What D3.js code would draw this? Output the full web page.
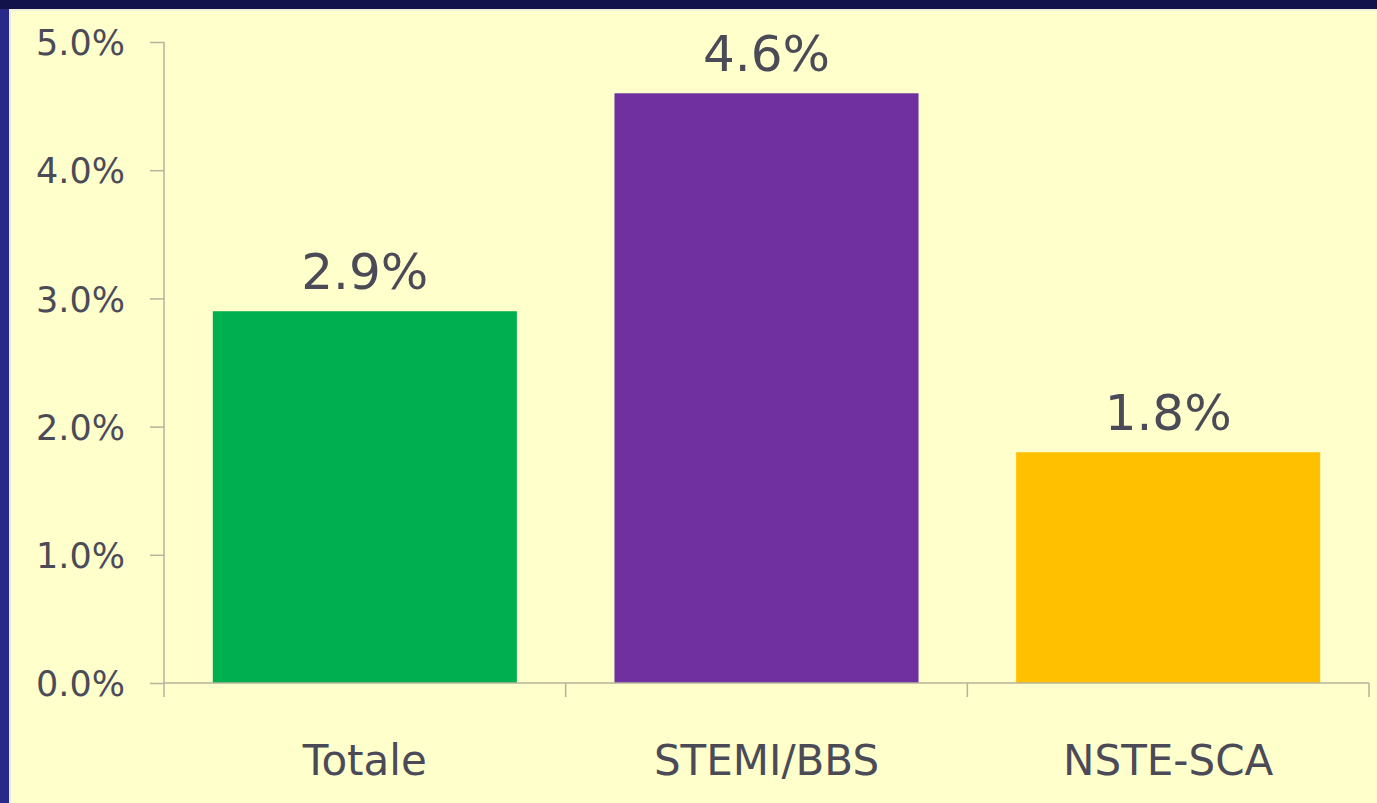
<!DOCTYPE html>
<html>
<head>
<meta charset="utf-8">
<script src="https://cdn.jsdelivr.net/npm/d3@7"></script>
<style>
  html, body { margin: 0; padding: 0; background: #ffffcc; overflow: hidden; }
  svg { display: block; }
</style>
</head>
<body>
<svg id="chart" width="1377" height="803"></svg>
<script>
const categories = ["Totale", "STEMI/BBS", "NSTE-SCA"];
const values = [2.9, 4.6, 1.8];
const barColors = ["#00b050", "#7030a0", "#ffc000"];
const yTicks = [0, 1, 2, 3, 4, 5];
const yMax = 5;

(function () {
const W = 1377, H = 803;
const svg = d3.select("#chart");
const font = "'DejaVu Sans', Verdana, sans-serif";
const textColor = "#4b4b58";
const axisColor = "#b4b49c";

// frame
svg.append("rect").attr("x", 0).attr("y", 0).attr("width", W).attr("height", H).attr("fill", "#ffffcc");
svg.append("rect").attr("x", 0).attr("y", 0).attr("width", 9).attr("height", H).attr("fill", "#29298a");
svg.append("rect").attr("x", 9).attr("y", 0).attr("width", 2).attr("height", H).attr("fill", "#e8e8f4");
svg.append("rect").attr("x", 0).attr("y", 0).attr("width", W).attr("height", 9).attr("fill", "#13134b");
svg.append("rect").attr("x", 9).attr("y", 9).attr("width", W - 9).attr("height", 2).attr("fill", "#f0f0dc");

const mLeft = 164, mRight = 1369, mTop = 42, mBottom = 683;

const x = d3.scaleBand().domain(categories).range([mLeft, mRight]).paddingInner(0.243).paddingOuter(0.1215);
const y = d3.scaleLinear().domain([0, yMax]).range([mBottom, mTop]);

// bars
svg.append("g").selectAll("rect").data(values).join("rect")
  .attr("x", (d, i) => x(categories[i]))
  .attr("y", d => y(d))
  .attr("width", x.bandwidth())
  .attr("height", d => y(0) - y(d))
  .attr("fill", (d, i) => barColors[i]);

// y axis
const yAxis = svg.append("g").attr("transform", `translate(${mLeft},0)`)
  .call(d3.axisLeft(y).tickValues(yTicks).tickSize(14).tickPadding(25)
    .tickFormat(d => d3.format(".1f")(d) + "%"));
yAxis.select(".domain").attr("stroke", axisColor).attr("stroke-width", 1.5).attr("d", `M0,${mTop}V${mBottom}`);
yAxis.selectAll(".tick line").attr("stroke", axisColor).attr("stroke-width", 1.5);
yAxis.selectAll(".tick text").attr("fill", textColor).attr("font-family", font).attr("font-size", 35).attr("dy", "0.36em");

// x axis line and boundary ticks
const xg = svg.append("g");
xg.append("line").attr("x1", mLeft).attr("x2", mRight).attr("y1", mBottom).attr("y2", mBottom)
  .attr("stroke", axisColor).attr("stroke-width", 1.5);
const boundaries = d3.range(categories.length + 1).map(i => mLeft + i * (mRight - mLeft) / categories.length);
xg.selectAll("line.b").data(boundaries).join("line").attr("class", "b")
  .attr("x1", d => d).attr("x2", d => d).attr("y1", mBottom).attr("y2", mBottom + 14)
  .attr("stroke", axisColor).attr("stroke-width", 1.5);

// category labels
xg.selectAll("text.cat").data(categories).join("text").attr("class", "cat")
  .attr("x", d => x(d) + x.bandwidth() / 2)
  .attr("y", 775)
  .attr("text-anchor", "middle")
  .attr("fill", textColor).attr("font-family", font).attr("font-size", 42)
  .text(d => d);

// value labels
svg.append("g").selectAll("text").data(values).join("text")
  .attr("x", (d, i) => x(categories[i]) + x.bandwidth() / 2)
  .attr("y", d => y(d) - 22)
  .attr("text-anchor", "middle")
  .attr("fill", textColor).attr("font-family", font).attr("font-size", 50)
  .text(d => d3.format(".1f")(d) + "%");
})();
</script>
</body>
</html>
